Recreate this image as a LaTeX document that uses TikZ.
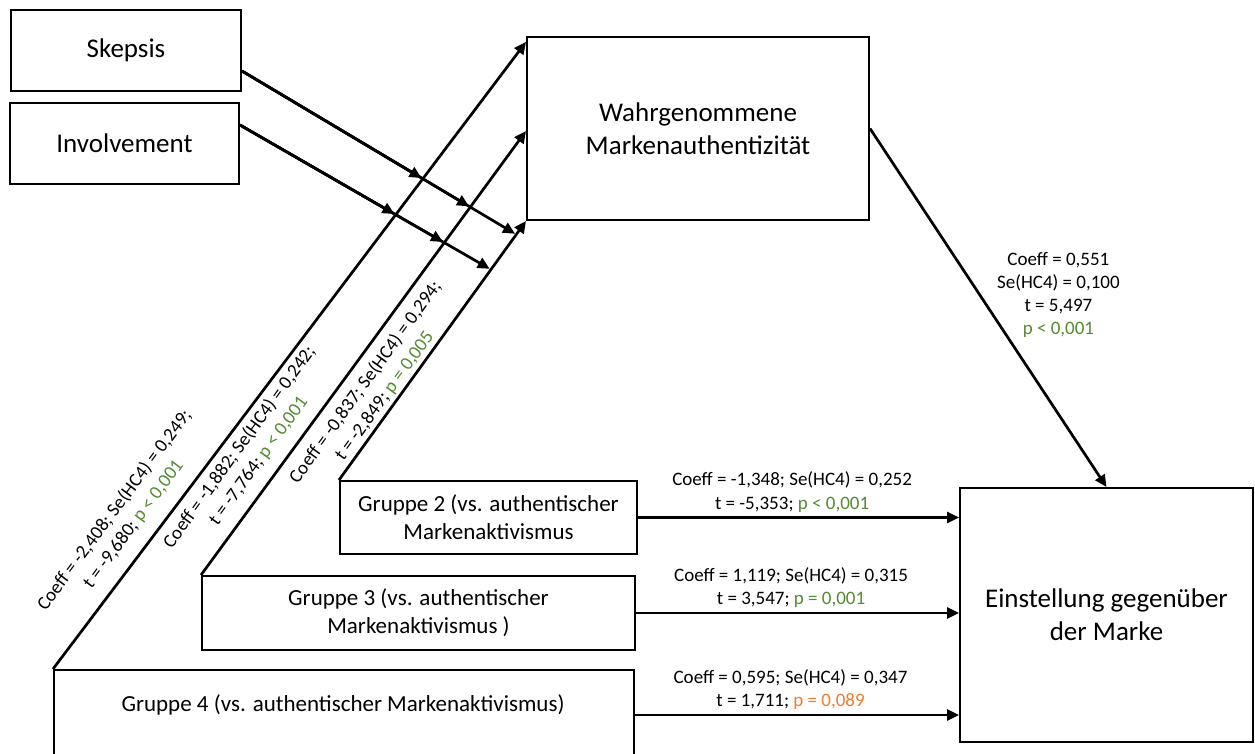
\documentclass[tikz,border=0pt]{standalone}
\usepackage{fontspec}
\setmainfont{Carlito}
\usetikzlibrary{arrows.meta,calc}
\definecolor{pgreen}{RGB}{84,140,50}
\definecolor{porange}{RGB}{237,125,49}
\begin{document}
\begin{tikzpicture}[x=1pt,y=-1pt,
  box/.style={draw=black, line width=2pt, align=center, inner sep=0pt, font=\fontsize{27}{33}\selectfont},
  gbox/.style={box, font=\fontsize{23}{28}\selectfont},
  gtext/.style={align=center, inner sep=0pt, font=\fontsize{23}{28}\selectfont},
  arr/.style={line width=2.7pt, -{Triangle[length=12pt,width=11pt]}},
  lab/.style={font=\fontsize{19}{23.5}\selectfont, align=center, inner sep=2pt},
]
\fill[white] (0,0) rectangle (1255,753);
\useasboundingbox (0,0) rectangle (1255,753);

% boxes
\node[box, anchor=north west, minimum width=230pt, minimum height=81pt] (Sk) at (10,9) {Skepsis};
\node[box, anchor=north west, minimum width=229pt, minimum height=81pt] (In) at (9,102) {Involvement};
\node[box, anchor=north west, minimum width=342pt, minimum height=183pt] (W) at (526,36) {Wahrgenommene\\Markenauthentizität};
\node[box, anchor=north west, minimum width=293pt, minimum height=254pt] (E) at (959,487) {Einstellung gegenüber\\der Marke};
\node[gbox, anchor=north west, minimum width=297pt, minimum height=73pt] (G2) at (339,480) {Gruppe 2 (vs. authentischer\\Markenaktivismus};
\node[gbox, anchor=north west, minimum width=433pt, minimum height=74pt] (G3) at (201,575) {Gruppe 3 (vs. authentischer\\Markenaktivismus )};
\node[gbox, anchor=north west, minimum width=580pt, minimum height=110pt] (G4) at (53,669) {};
\node[gtext] (G4t) at (343,705) {Gruppe 4 (vs. authentischer Markenaktivismus)};

% helper coordinates
\coordinate (s0) at ([yshift=-20.5pt]Sk.east);
\coordinate (i0) at ([yshift=18.5pt]In.east);
\coordinate (sfar) at ($(s0)+(360,214.6)$);
\coordinate (ifar) at ($(i0)+(362,208.5)$);
\coordinate (g4c) at (G4.north west);
\coordinate (g3c) at (G3.north west);
\coordinate (g2c) at (G2.north west);
\coordinate (w1) at ([yshift=-6pt]W.north west);
\coordinate (w2) at ([yshift=-2.5pt]W.west);
\coordinate (w3) at (W.south west);
\coordinate (s1) at (intersection of s0--sfar and g4c--w1);
\coordinate (s2) at (intersection of s0--sfar and g3c--w2);
\coordinate (s3) at (intersection of s0--sfar and g2c--w3);
\coordinate (i1) at (intersection of i0--ifar and g4c--w1);
\coordinate (i2) at (intersection of i0--ifar and g3c--w2);
\coordinate (i3) at (intersection of i0--ifar and g2c--w3);

% diagonal paths from groups to authenticity
\draw[arr] (g4c) -- (w1);
\draw[arr] (g3c) -- (w2);
\draw[arr] (g2c) -- (w3);
\node[lab, rotate=53.3] (L1) at (124,517) {Coeff = -2,408; Se(HC4) = 0,249;\\t = -9,680; {\color{pgreen}p < 0,001}};
\node[lab, rotate=54] (L2) at (249,454) {Coeff = -1,882; Se(HC4) = 0,242;\\t = -7,764; {\color{pgreen}p < 0,001}};
\node[lab, rotate=54] (L3) at (375,389) {Coeff = -0,837; Se(HC4) = 0,294;\\t = -2,849; {\color{pgreen}p = 0,005}};

% moderators
\draw[arr, shorten >=1.5pt] (s0) -- (s1);
\draw[arr, shorten >=1.5pt] (s0) -- (s2);
\draw[arr, shorten >=1.5pt] (s0) -- (s3);
\draw[arr, shorten >=1.5pt] (i0) -- (i1);
\draw[arr, shorten >=1.5pt] (i0) -- (i2);
\draw[arr, shorten >=1.5pt] (i0) -- (i3);

% horizontal paths
\coordinate (g4a) at ([yshift=-46pt]G4.north east);
\draw[arr] (G2.east) -- node[lab, pos=0.48, above=2pt] (L4) {Coeff = -1,348; Se(HC4) = 0,252\\t = -5,353; {\color{pgreen}p < 0,001}} (G2.east -| E.west);
\draw[arr] (G3.east) -- node[lab, pos=0.48, above=2pt] (L5) {Coeff = 1,119; Se(HC4) = 0,315\\t = 3,547; {\color{pgreen}p = 0,001}} (G3.east -| E.west);
\draw[arr] (g4a) -- node[lab, pos=0.48, above=2pt] (L6) {Coeff = 0,595; Se(HC4) = 0,347\\t = 1,711; {\color{porange}p = 0,089}} (g4a -| E.west);

% authenticity -> attitude
\draw[arr] (W.east) -- node[lab, pos=0.464, anchor=west, xshift=14pt, font=\fontsize{19}{23}\selectfont] (L7) {Coeff = 0,551\\Se(HC4) = 0,100\\t = 5,497\\{\color{pgreen}p < 0,001}} (E.north);
\end{tikzpicture}
\end{document}
